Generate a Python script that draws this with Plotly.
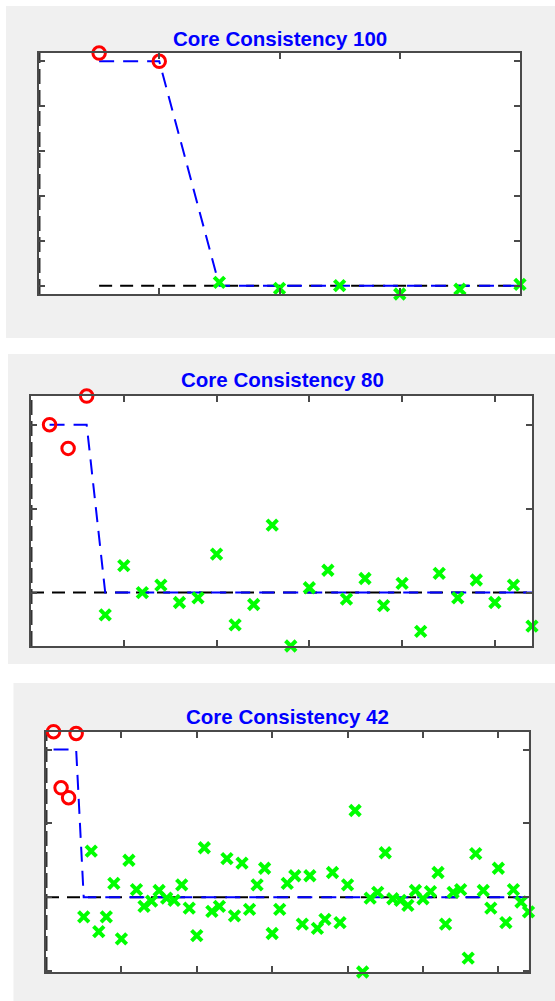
import plotly.graph_objects as go

W, H = 555, 1001

# ---- data ----
titles = ["Core Consistency 100", "Core Consistency 80", "Core Consistency 42"]

super_100 = [1.037, 1.0]
off_100 = [0.015, -0.012, 0.0, -0.037, -0.016, 0.006]

super_80 = [1.0, 0.859, 1.171]
off_80 = [-0.133, 0.161, 0.0, 0.045, -0.059, -0.031, 0.229, -0.192, -0.071, 0.402,
          -0.318, 0.029, 0.133, -0.039, 0.084, -0.078, 0.055, -0.231, 0.114, -0.031,
          0.075, -0.059, 0.045, -0.2]

super_42 = [1.121, 0.741, 0.674, 1.109]
off_42 = [-0.134, 0.3125, -0.234, -0.134, 0.094, -0.283, 0.25, 0.051, -0.0625, -0.027,
          0.045, -0.007, -0.022, 0.083, -0.074, -0.261, 0.335, -0.096, -0.0625, 0.261,
          -0.127, 0.23, -0.083, 0.083, 0.196, -0.246, -0.083, 0.094, 0.145, -0.183,
          0.145, -0.212, -0.15, 0.167, -0.172, 0.083, 0.587, -0.507, -0.007, 0.033,
          0.301, -0.011, -0.022, -0.056, 0.045, -0.011, 0.038, 0.167, -0.183, 0.033,
          0.051, -0.413, 0.295, 0.045, -0.074, 0.196, -0.172, 0.051, -0.033, -0.1]

# ideal core (target): ones on superdiagonal, zeros elsewhere
target_100 = [1, 1] + [0] * 6
target_80 = [1, 1, 1] + [0] * 24
target_42 = [1, 1, 1, 1] + [0] * 60

x_dticks = [2, 5, 10]
y_dticks = [0.2, 0.5, 0.5]
zero_start = [1, 0, 0]

panels = [(super_100, off_100, target_100), (super_80, off_80, target_80), (super_42, off_42, target_42)]

# ---- layout geometry (page pixels) ----
axes_px = [(39, 520, 53, 294), (31, 532, 396, 646), (46, 528.5, 731.7, 972)]
bg_px = [(6, 560, 6, 338), (8, 560, 354, 664), (13.5, 560, 683, 1005)]
title_px = [(280, 38.5), (282, 379.5), (287.5, 716.5)]

def px2x(p):
    return p / W

def px2y(p):
    return 1 - p / H

AX = "#4a4a4a"

fig = go.Figure()
shapes = []
annotations = []
layout_axes = {}

for i, ((sup, off, tgt), (l, r, t, b)) in enumerate(zip(panels, axes_px)):
    n = i + 1
    xa = "x" if n == 1 else f"x{n}"
    ya = "y" if n == 1 else f"y{n}"
    N = len(sup) + len(off)
    xs = list(range(1, N + 1))
    allv = sup + off + [0]
    eps = 1e-4
    ymin, ymax = min(allv) - eps, max(allv) + eps   # tight axis

    # zero line
    fig.add_trace(go.Scatter(x=[zero_start[i], N], y=[0, 0], mode="lines",
                             line=dict(color="black", width=2, dash="13px,8px"),
                             xaxis=xa, yaxis=ya, showlegend=False, hoverinfo="skip"))
    # vertical dashed line at x=0
    fig.add_trace(go.Scatter(x=[0, 0], y=[ymin, ymax], mode="lines",
                             line=dict(color="#333333", width=3, dash="15px,6px"),
                             xaxis=xa, yaxis=ya, showlegend=False, hoverinfo="skip"))
    # target
    fig.add_trace(go.Scatter(x=xs, y=tgt, mode="lines",
                             line=dict(color="#0000FF", width=2, dash="15px,9px"),
                             xaxis=xa, yaxis=ya, showlegend=False, hoverinfo="skip"))
    # off-diagonal
    fig.add_trace(go.Scatter(x=xs[len(sup):], y=off, mode="markers",
                             marker=dict(symbol="x-thin-open", size=10.5, color="#00FF00",
                                         line=dict(color="#00FF00", width=4)),
                             cliponaxis=False,
                             xaxis=xa, yaxis=ya, showlegend=False))
    # superdiagonal
    fig.add_trace(go.Scatter(x=xs[:len(sup)], y=sup, mode="markers",
                             marker=dict(symbol="circle-open", size=12.5, color="#FF0000",
                                         line=dict(color="#FF0000", width=3)),
                             cliponaxis=False,
                             xaxis=xa, yaxis=ya, showlegend=False))

    axcommon = dict(showgrid=False, zeroline=False, showticklabels=False,
                    ticks="inside", ticklen=6, tickwidth=1.5, tickcolor=AX,
                    showline=True, linecolor=AX, linewidth=2, mirror="ticks")
    layout_axes["xaxis" if n == 1 else f"xaxis{n}"] = dict(
        domain=[px2x(l), px2x(r)], range=[0, N], dtick=x_dticks[i], tick0=0,
        anchor=ya, **axcommon)
    layout_axes["yaxis" if n == 1 else f"yaxis{n}"] = dict(
        domain=[px2y(b), px2y(t)], range=[ymin, ymax], dtick=y_dticks[i], tick0=0,
        anchor=xa, **axcommon)

    bl, br, bt, bb = bg_px[i]
    shapes.append(dict(type="rect", xref="paper", yref="paper",
                       x0=px2x(bl), x1=px2x(br), y0=px2y(bb), y1=px2y(bt),
                       fillcolor="#F0F0F0", line=dict(width=0), layer="below"))
    shapes.append(dict(type="rect", xref="paper", yref="paper",
                       x0=px2x(l), x1=px2x(r), y0=px2y(b), y1=px2y(t),
                       fillcolor="white", line=dict(width=0), layer="below"))
    tx, ty = title_px[i]
    annotations.append(dict(text=f"<b>{titles[i]}</b>", x=px2x(tx), y=px2y(ty),
                            xref="paper", yref="paper", xanchor="center", yanchor="middle",
                            showarrow=False,
                            font=dict(family="Liberation Sans, Arial, sans-serif",
                                      size=20.5, color="#0000FF")))

fig.update_layout(width=W, height=H, margin=dict(l=0, r=0, t=0, b=0),
                  paper_bgcolor="white", plot_bgcolor="rgba(0,0,0,0)",
                  shapes=shapes, annotations=annotations, **layout_axes)

fig.write_html("out.html", config={"displayModeBar": False},
               post_script="document.body.style.margin='0';document.body.style.overflow='hidden';")
